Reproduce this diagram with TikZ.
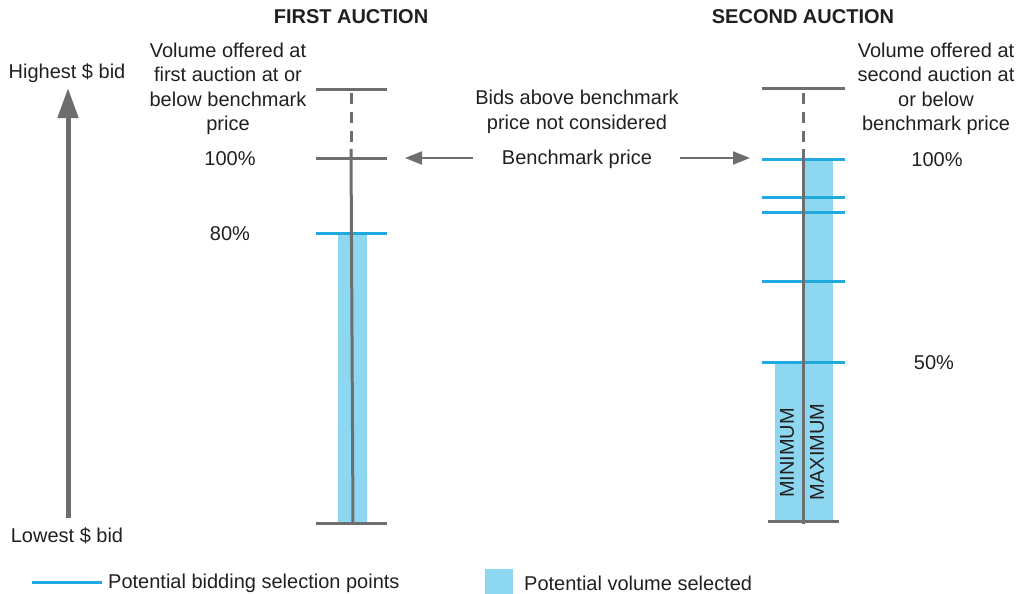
\documentclass[tikz,border=0pt]{standalone}
\usepackage{fontspec}
\setmainfont{Liberation Sans}
\usetikzlibrary{arrows.meta}
\definecolor{axgray}{HTML}{6D6E70}
\definecolor{selblue}{HTML}{1FA9E1}
\definecolor{volblue}{HTML}{8DD7F0}
\definecolor{txt}{HTML}{231F20}
\begin{document}
\begin{tikzpicture}[x=1pt,y=-1pt,
  every node/.style={text=txt,font=\fontsize{20}{24.5}\selectfont,inner sep=0pt},
  lbl/.style={align=center},
  ttl/.style={font=\fontsize{20}{24}\selectfont\bfseries},
  barline/.style={draw=axgray,line width=3pt},
  selline/.style={draw=selblue,line width=3pt},
  volfill/.style={fill=volblue,draw=none},
  benchar/.style={draw=axgray,line width=2pt,-{Triangle[width=13pt,length=17pt]}},
]
\useasboundingbox (0,0) rectangle (1026,594);

% titles
\node[ttl] (t1) at (351,17) {FIRST AUCTION};
\node[ttl] (t2) at (803,17) {SECOND AUCTION};

% left axis
\node (hi) at (67,73) {Highest \$ bid};
\node (lo) at (67,536) {Lowest \$ bid};
\coordinate (axb) at (68,518);
\coordinate (axt) at (68,88);
\draw[draw=axgray,line width=5pt,-{Triangle[width=20pt,length=30pt]}] (axb) -- (axt);

% ---------- first auction ----------
\fill[volfill] (338,233) rectangle (367,522);
\draw[selline] (316,233) -- (387,233);
\draw[barline] (316,90) -- (387,90);
\draw[barline] (316,158) -- (387,158);
\draw[barline] (316,523) -- (387,523);
\draw[draw=axgray,line width=3pt,dash pattern=on 11pt off 8pt] (351,93) -- (351,145);
\draw[draw=axgray,line width=3pt] (351,149) -- (353,523);

\node[lbl] (v1) at (228,89) {Volume offered at\\first auction at or\\below benchmark\\price};
\node (p100a) at (230,159) {100\%};
\node (p80) at (230,234) {80\%};

% ---------- second auction ----------
\fill[volfill] (803,159) rectangle (833,521);
\fill[volfill] (775,362) rectangle (803,521);
\draw[selline] (762,159) -- (845,159);
\draw[selline] (762,197) -- (845,197);
\draw[selline] (762,212) -- (845,212);
\draw[selline] (762,281) -- (845,281);
\draw[selline] (762,362) -- (845,362);
\draw[barline] (762,89) -- (845,89);
\draw[barline] (768,521) -- (839,521);
\draw[draw=axgray,line width=3pt,dash pattern=on 11pt off 8pt] (803,93) -- (803,145);
\draw[draw=axgray,line width=3pt] (803,149) -- (803,524);

\node[rotate=90] (mn) at (787,453) {MINIMUM};
\node[rotate=90] (mx) at (817,452) {MAXIMUM};

\node[lbl] (v2) at (936,89) {Volume offered at\\second auction at\\or below\\benchmark price};
\node (p100b) at (937,160) {100\%};
\node (p50) at (934,363) {50\%};

% ---------- middle ----------
\node[lbl] (bids) at (577,112) {Bids above benchmark\\price not considered};
\node (bench) at (577,159) {Benchmark price};
\coordinate (la) at (405,158);
\coordinate (ra) at (750,158);
\draw[benchar] ([xshift=-29pt,yshift=1pt]bench.west) -- (la);
\draw[benchar] ([xshift=28pt,yshift=1pt]bench.east) -- (ra);

% ---------- legend ----------
\coordinate (lg1) at (32,582);
\coordinate (lg2) at (102,582);
\draw[selline] (lg1) -- (lg2);
\node[anchor=west] (lgt1) at (108,583) {Potential bidding selection points};
\fill[volfill] (485,569) rectangle (513,594);
\node[anchor=west] (lgt2) at (524,583) {Potential volume selected};
\end{tikzpicture}
\end{document}
